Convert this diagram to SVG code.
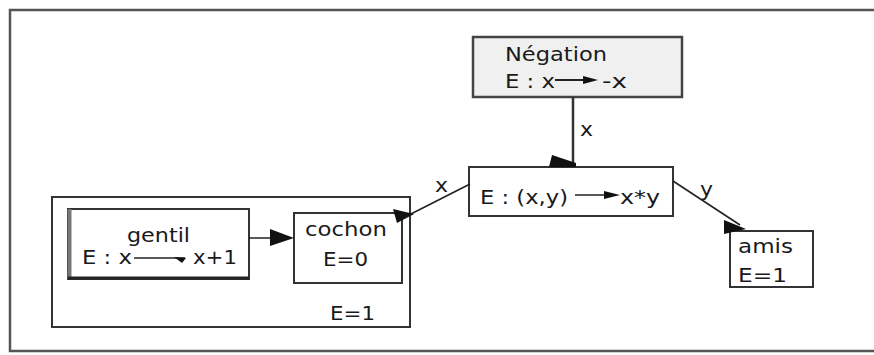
<svg xmlns="http://www.w3.org/2000/svg" width="874" height="355" viewBox="0 0 874 355">
  <style>
    .box { fill: #ffffff; stroke: #333333; stroke-width: 2; }
    .t { font-family: "DejaVu Sans", Verdana, sans-serif; font-size: 20px; fill: #1a1a1a; }
    .edge { stroke: #222222; stroke-width: 1.6; fill: none; }
    .head { fill: #111111; stroke: none; }
  </style>

  <!-- page frame -->
  <rect x="10" y="10" width="880" height="341" fill="#ffffff" stroke="#555555" stroke-width="2.5"/>

  <!-- group container holding gentil and cochon -->
  <g id="container">
    <rect class="box" x="52" y="197" width="358" height="130"/>
    <text class="t" x="330" y="320" textLength="45" lengthAdjust="spacingAndGlyphs">E=1</text>
  </g>

  <g id="gentil">
    <rect class="box" x="68" y="209" width="181" height="70"/>
    <line x1="69.5" y1="209" x2="69.5" y2="279" stroke="#777777" stroke-width="4"/>
    <line x1="68" y1="278" x2="249" y2="278" stroke="#222222" stroke-width="3"/>
    <text class="t" x="127" y="242" textLength="63" lengthAdjust="spacingAndGlyphs">gentil</text>
    <text class="t" x="82" y="264" textLength="50" lengthAdjust="spacingAndGlyphs">E : x</text>
    <line x1="134" y1="258" x2="185" y2="258" stroke="#222222" stroke-width="1.5"/>
    <polygon class="head" points="174,257 186,258 182,263"/>
    <text class="t" x="193" y="264" textLength="44" lengthAdjust="spacingAndGlyphs">x+1</text>
  </g>

  <g id="cochon">
    <rect class="box" x="294" y="213" width="108" height="70"/>
    <text class="t" x="305" y="236" textLength="82" lengthAdjust="spacingAndGlyphs">cochon</text>
    <text class="t" x="323" y="266" textLength="45" lengthAdjust="spacingAndGlyphs">E=0</text>
  </g>

  <g id="negation">
    <rect x="473" y="37" width="209" height="60" fill="#f0f0f0" stroke="#444444" stroke-width="2.5"/>
    <text class="t" x="505" y="61" textLength="102" lengthAdjust="spacingAndGlyphs">Négation</text>
    <text class="t" x="505" y="88" textLength="50" lengthAdjust="spacingAndGlyphs">E : x</text>
    <line x1="555" y1="80" x2="588" y2="80" stroke="#222222" stroke-width="2"/>
    <polygon class="head" points="583,76 598,80 583,84"/>
    <text class="t" x="602" y="88" textLength="25" lengthAdjust="spacingAndGlyphs">-x</text>
  </g>

  <g id="produit">
    <rect class="box" x="469" y="167" width="204" height="49"/>
    <text class="t" x="480" y="204" textLength="88" lengthAdjust="spacingAndGlyphs">E : (x,y)</text>
    <line x1="575" y1="195" x2="610" y2="195" stroke="#222222" stroke-width="1.5"/>
    <polygon class="head" points="604,191 620,195 604,199"/>
    <text class="t" x="620" y="204" textLength="40" lengthAdjust="spacingAndGlyphs">x*y</text>
  </g>

  <g id="amis">
    <rect class="box" x="730" y="231" width="83" height="56"/>
    <text class="t" x="738" y="253" textLength="55" lengthAdjust="spacingAndGlyphs">amis</text>
    <text class="t" x="738" y="282" textLength="49" lengthAdjust="spacingAndGlyphs">E=1</text>
  </g>

  <!-- connectors -->
  <g id="connectors">
    <!-- gentil -> cochon -->
    <line class="edge" x1="249" y1="238" x2="282" y2="238"/>
    <polygon class="head" points="270,229 294,238 270,246"/>

    <!-- cochon -> produit -->
    <line class="edge" x1="405" y1="217" x2="470" y2="184"/>
    <polygon class="head" points="393,209 414,214 397,223"/>
    <text class="t" x="435" y="192" textLength="13" lengthAdjust="spacingAndGlyphs">x</text>

    <!-- negation -> produit -->
    <line x1="573" y1="97" x2="573" y2="165" stroke="#333333" stroke-width="2.5"/>
    <polygon class="head" points="552,155 576,163 576,167 549,167"/>
    <text class="t" x="580" y="136" textLength="13" lengthAdjust="spacingAndGlyphs">x</text>

    <!-- produit -> amis -->
    <line class="edge" x1="673" y1="181" x2="740" y2="225"/>
    <polygon class="head" points="724,220 746,229 724,234"/>
    <text class="t" x="700" y="196" textLength="13" lengthAdjust="spacingAndGlyphs">y</text>
  </g>
</svg>
